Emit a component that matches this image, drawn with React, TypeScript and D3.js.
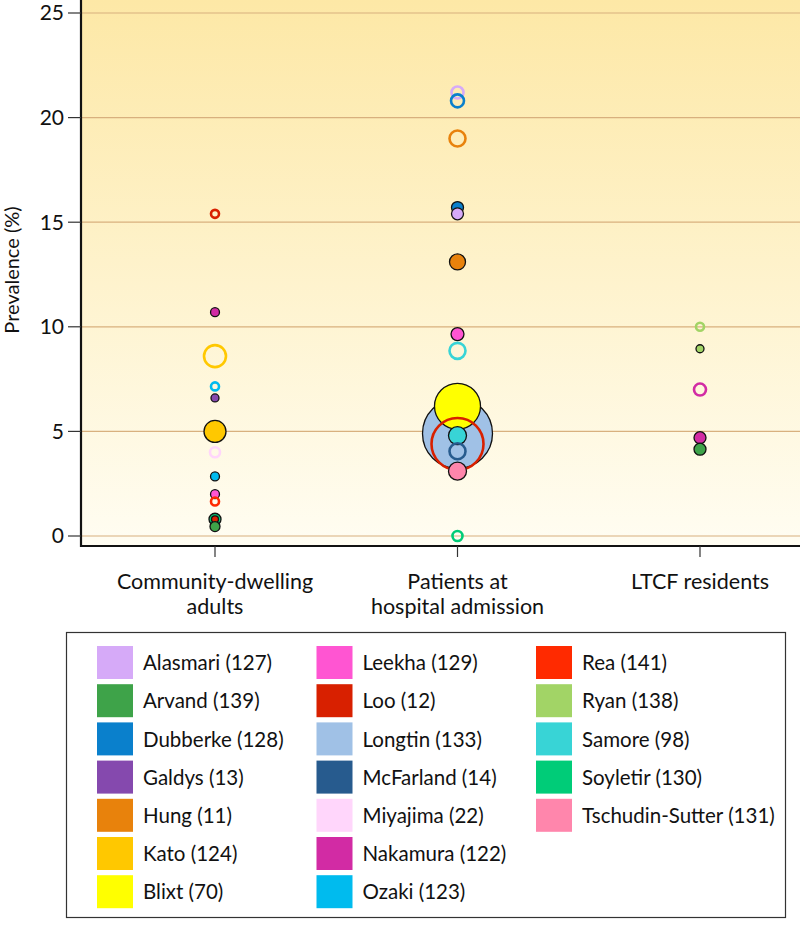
import React from "react";
import * as d3 from "d3";

const groups = ["Community-dwelling adults", "Patients at hospital admission", "LTCF residents"];
const groupLabels = [["Community-dwelling", "adults"], ["Patients at", "hospital admission"], ["LTCF residents"]];
const yTicks = [0, 5, 10, 15, 20, 25];

const studies = [
  "Alasmari (127)", "Arvand (139)", "Dubberke (128)", "Galdys (13)", "Hung (11)", "Kato (124)", "Blixt (70)",
  "Leekha (129)", "Loo (12)", "Longtin (133)", "McFarland (14)", "Miyajima (22)", "Nakamura (122)", "Ozaki (123)",
  "Rea (141)", "Ryan (138)", "Samore (98)", "Soyletir (130)", "Tschudin-Sutter (131)",
];
const studyColors = [
  "#d6aaf8", "#3ea349", "#0a80cc", "#8549ae", "#e8820c", "#ffc800", "#ffff00",
  "#ff55d2", "#d82000", "#a0c1e6", "#275b8e", "#ffd6fb", "#d22ba4", "#00bbee",
  "#ff2a00", "#a2d466", "#38d4d6", "#00cc78", "#ff86ac",
];

// points: group index, study index, prevalence, size (area units), filled
const pGroup = [0,0,0,0,0,0,0,0,0,0,0,0,0, 1,1,1,1,1,1,1,1,1,1,1,1,1,1,1, 2,2,2,2,2];
const pStudy = [8,12,5,13,3,5,11,13,7,14,17,8,1, 0,2,4,2,0,4,7,16,9,6,8,16,10,18,17, 15,15,12,12,1];
const pValue = [15.4,10.7,8.6,7.15,6.6,5.0,4.0,2.85,2.0,1.65,0.8,0.8,0.45, 21.2,20.8,19.0,15.7,15.4,13.1,9.65,8.85,4.9,6.2,4.4,4.8,4.05,3.1,0.0, 10.0,8.95,7.0,4.7,4.15];
const pSize = [16,20,121,16,16,121,25,20,20,16,36,12,25, 36,42,64,36,36,64,42,64,1225,529,676,81,64,81,25, 16,16,36,36,36];
const pFilled = [0,1,0,0,1,1,0,1,1,0,1,1,1, 0,0,0,1,1,1,1,0,1,1,0,1,0,1,0, 0,1,0,1,1];

export default function App() {
  const W = 800, H = 926;
  const left = 81, right = 800, top = 0, axisY = 546;
  const y = d3.scaleLinear().domain([0, 25]).range([536, 13]);
  const x = d3.scalePoint<string>().domain(groups).range([215, 700]);
  const r = d3.scaleSqrt().domain([0, 1225]).range([0, 35]);
  const font = "Lato, 'Open Sans', sans-serif";

  const order = d3.range(pValue.length);
  const legendCols = [0, 7, 14];

  return (
    <svg width={W} height={H} style={{ display: "block", position: "absolute", left: 0, top: 0 }}>
      <defs>
        <linearGradient id="bg" x1="0" y1="0" x2="0" y2="1">
          <stop offset="0%" stopColor="#fde8a6" />
          <stop offset="100%" stopColor="#fffdf2" />
        </linearGradient>
      </defs>
      <rect x={left} y={top} width={right - left} height={axisY - top} fill="url(#bg)" />
      {yTicks.map((t) => (
        <line key={t} x1={left} x2={right} y1={y(t)} y2={y(t)} stroke="#d8b07e" strokeWidth={1.2} />
      ))}
      {order.map((i) => {
        const cx = x(groups[pGroup[i]])!;
        const cy = y(pValue[i]);
        const col = studyColors[pStudy[i]];
        const rad = r(pSize[i]);
        return pFilled[i] ? (
          <circle key={i} cx={cx} cy={cy} r={rad} fill={col} stroke="#111" strokeWidth={1.3} />
        ) : (
          <circle key={i} cx={cx} cy={cy} r={rad} fill="none" stroke={col} strokeWidth={2.6} />
        );
      })}
      {/* axes */}
      <line x1={left} x2={left} y1={0} y2={axisY + 1} stroke="#111" strokeWidth={2.2} />
      <line x1={left - 1} x2={right} y1={axisY} y2={axisY} stroke="#111" strokeWidth={2.2} />
      {yTicks.map((t) => (
        <g key={"yt" + t}>
          <line x1={left - 13} x2={left} y1={y(t)} y2={y(t)} stroke="#333" strokeWidth={1.2} />
          <text x={left - 17} y={y(t)} dy="0.35em" textAnchor="end" fontFamily={font} fontSize={21} fill="#111">{t}</text>
        </g>
      ))}
      <text transform={`translate(19,${270}) rotate(-90)`} textAnchor="middle" fontFamily={font} fontSize={20} fill="#111">Prevalence (%)</text>
      {groups.map((g, gi) => (
        <g key={g}>
          <line x1={x(g)} x2={x(g)} y1={axisY} y2={axisY + 11} stroke="#333" strokeWidth={1.2} />
          {groupLabels[gi].map((ln, li) => (
            <text key={li} x={x(g)} y={589 + li * 25} textAnchor="middle" fontFamily={font} fontSize={21.5} fill="#111">{ln}</text>
          ))}
        </g>
      ))}
      {/* legend */}
      <rect x={66.5} y={632.5} width={719} height={285} fill="#fff" stroke="#333" strokeWidth={1.2} />
      {studies.map((s, i) => {
        const col = Math.floor(i / 7);
        const row = i - legendCols[col];
        const lx = 97 + col * 219.5;
        const ly = 646 + row * 38.2;
        return (
          <g key={s}>
            <rect x={lx} y={ly} width={36} height={33} fill={studyColors[i]} />
            <text x={lx + 46} y={ly + 17} dy="0.35em" fontFamily={font} fontSize={20.5} fill="#111">{s}</text>
          </g>
        );
      })}
    </svg>
  );
}
